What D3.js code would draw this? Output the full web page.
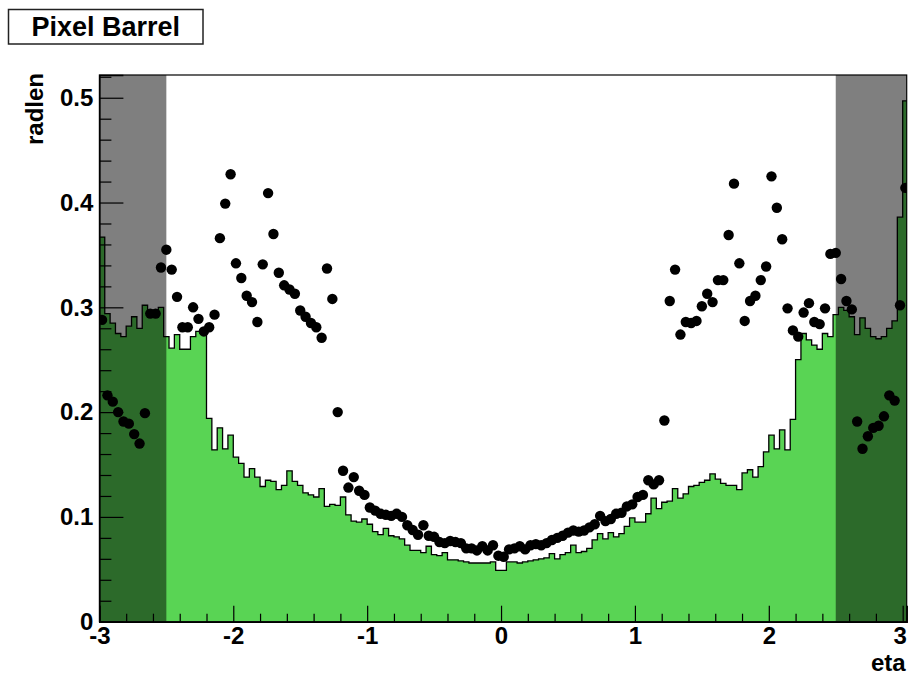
<!DOCTYPE html>
<html>
<head>
<meta charset="utf-8">
<script src="https://cdn.jsdelivr.net/npm/d3@7"></script>
<style>
  html, body { margin: 0; padding: 0; background: #fff; }
  svg { display: block; }
  text { font-family: "Liberation Sans", Arial, Helvetica, sans-serif; font-weight: bold; }
</style>
</head>
<body>
<svg id="chart" width="908" height="677"></svg>
<script>
// Material budget of the pixel barrel versus pseudorapidity
const chartTitle = "Pixel Barrel";
const xTitle = "eta";
const yTitle = "radlen";

// histogram binning: 151 bins of width 0.04 starting at eta = -3
const binLow = -3.0;
const binWidth = 0.04;

// simulated radiation length per bin (filled histogram)
const histValues = [
  0.367, 0.294, 0.285, 0.275, 0.272, 0.282, 0.291, 0.280, 0.302, 0.297,
  0.297, 0.300, 0.272, 0.261, 0.274, 0.260, 0.260, 0.272, 0.277, 0.277,
  0.194, 0.164, 0.185, 0.165, 0.178, 0.157, 0.151, 0.138, 0.146, 0.138,
  0.129, 0.135, 0.134, 0.126, 0.130, 0.144, 0.134, 0.130, 0.123, 0.121,
  0.119, 0.127, 0.110, 0.112, 0.111, 0.119, 0.102, 0.096, 0.095, 0.098,
  0.093, 0.086, 0.083, 0.089, 0.082, 0.081, 0.079, 0.073, 0.068, 0.068,
  0.066, 0.072, 0.064, 0.063, 0.066, 0.059, 0.059, 0.058, 0.057, 0.056,
  0.056, 0.056, 0.056, 0.057, 0.049, 0.049, 0.057, 0.057, 0.056, 0.057,
  0.058, 0.059, 0.060, 0.061, 0.065, 0.060, 0.064, 0.066, 0.073, 0.066,
  0.067, 0.070, 0.078, 0.084, 0.079, 0.085, 0.081, 0.084, 0.091, 0.099,
  0.095, 0.095, 0.103, 0.118, 0.108, 0.114, 0.115, 0.127, 0.118, 0.122,
  0.129, 0.130, 0.133, 0.135, 0.141, 0.136, 0.132, 0.130, 0.130, 0.126,
  0.142, 0.145, 0.138, 0.148, 0.162, 0.178, 0.165, 0.183, 0.164, 0.193,
  0.250, 0.275, 0.269, 0.264, 0.260, 0.275, 0.272, 0.293, 0.300, 0.297,
  0.291, 0.274, 0.290, 0.280, 0.272, 0.270, 0.272, 0.280, 0.287, 0.386,
  0.497
];

// reconstructed radiation length per bin (markers)
const pointValues = [
  0.288, 0.216, 0.210, 0.200, 0.191, 0.189, 0.179, 0.170, 0.199, 0.294,
  0.294, 0.338, 0.355, 0.336, 0.310, 0.281, 0.281, 0.300, 0.289, 0.277,
  0.281, 0.293, 0.366, 0.399, 0.427, 0.342, 0.328, 0.311, 0.305, 0.286,
  0.341, 0.409, 0.370, 0.333, 0.321, 0.317, 0.313, 0.297, 0.291, 0.285,
  0.281, 0.271, 0.337, 0.308, 0.200, 0.144, 0.128, 0.138, 0.125, 0.121,
  0.109, 0.106, 0.103, 0.102, 0.101, 0.103, 0.100, 0.092, 0.0875, 0.083,
  0.092, 0.082, 0.081, 0.076, 0.075, 0.077, 0.076, 0.075, 0.070, 0.070,
  0.068, 0.072, 0.068, 0.073, 0.063, 0.062, 0.069, 0.070, 0.072, 0.069,
  0.073, 0.074, 0.073, 0.075, 0.078, 0.080, 0.082, 0.085, 0.087, 0.086,
  0.087, 0.090, 0.093, 0.101, 0.096, 0.098, 0.103, 0.104, 0.110, 0.112,
  0.119, 0.121, 0.135, 0.131, 0.135, 0.192, 0.306, 0.336, 0.274, 0.286,
  0.285, 0.287, 0.301, 0.313, 0.305, 0.326, 0.326, 0.369, 0.418, 0.342,
  0.287, 0.306, 0.311, 0.326, 0.339, 0.425, 0.395, 0.365, 0.299, 0.278,
  0.272, 0.295, 0.304, 0.286, 0.284, 0.299, 0.351, 0.352, 0.327, 0.306,
  0.298, 0.191, 0.165, 0.177, 0.185, 0.187, 0.196, 0.216, 0.211, 0.302,
  0.414
];

// axis ticks and shaded acceptance limits
const xTickValues = [-3, -2, -1, 0, 1, 2, 3];
const yTickValues = [0, 0.1, 0.2, 0.3, 0.4, 0.5];
const etaLimit = 2.5;

// plot frame
const frame = { left: 99.4, right: 906.7, top: 75, bottom: 621.7 };
const xMax = 3.03;
const yMax = 0.5217;

const svg = d3.select("#chart");

const x = d3.scaleLinear().domain([-3, xMax]).range([frame.left, frame.right]);
const y = d3.scaleLinear().domain([0, yMax]).range([frame.bottom, frame.top]);

svg.append("defs").append("clipPath").attr("id", "plotClip")
  .append("rect")
  .attr("x", frame.left).attr("y", frame.top)
  .attr("width", frame.right - frame.left)
  .attr("height", frame.bottom - frame.top);

const plot = svg.append("g").attr("clip-path", "url(#plotClip)");

// step outline of the histogram
const edgeLo = i => binLow + i * binWidth;
const stepPts = [[edgeLo(0), 0]];
histValues.forEach((v, i) => {
  stepPts.push([edgeLo(i), v]);
  stepPts.push([edgeLo(i + 1), v]);
});
stepPts.push([edgeLo(histValues.length), 0]);

const line = d3.line().x(d => x(d[0])).y(d => y(d[1]));

plot.append("path")
  .attr("d", line(stepPts) + "Z")
  .attr("fill", "#59d454")
  .attr("stroke", "none");

plot.append("path")
  .attr("d", line(stepPts))
  .attr("fill", "none")
  .attr("stroke", "#000")
  .attr("stroke-width", 1.3)
  .attr("stroke-linejoin", "miter");

// shaded regions outside the barrel acceptance
const shade = [[-3, -etaLimit], [etaLimit, xMax]];
plot.selectAll("rect.shade").data(shade).enter().append("rect")
  .attr("class", "shade")
  .attr("x", d => x(d[0]))
  .attr("width", d => x(d[1]) - x(d[0]))
  .attr("y", frame.top)
  .attr("height", frame.bottom - frame.top)
  .attr("fill", "#000")
  .attr("fill-opacity", 0.5);

// markers at bin centres
plot.selectAll("circle.pt").data(pointValues).enter().append("circle")
  .attr("class", "pt")
  .attr("cx", (d, i) => x(binLow + (i + 0.5) * binWidth))
  .attr("cy", d => y(d))
  .attr("r", 5.2)
  .attr("fill", "#000");

// frame
svg.append("rect")
  .attr("x", frame.left).attr("y", frame.top)
  .attr("width", frame.right - frame.left)
  .attr("height", frame.bottom - frame.top)
  .attr("fill", "none")
  .attr("stroke", "#000")
  .attr("stroke-width", 1.2);

// y axis: major ticks with labels, minor ticks every 0.02
const yMinor = d3.range(0, yMax, 0.02).filter(v => Math.abs(v * 10 - Math.round(v * 10)) > 1e-6);
svg.append("g")
  .attr("transform", `translate(${frame.left},0)`)
  .call(d3.axisLeft(y).tickValues(yMinor).tickSize(-12).tickFormat(""))
  .call(g => g.select(".domain").remove())
  .call(g => g.selectAll("line").attr("stroke", "#000").attr("stroke-width", 1.2));

const yAxis = svg.append("g")
  .attr("transform", `translate(${frame.left},0)`)
  .call(d3.axisLeft(y).tickValues(yTickValues).tickSize(-24).tickPadding(6)
    .tickFormat(d => d === 0 ? "0" : d.toFixed(1)));
yAxis.select(".domain").attr("stroke", "#000").attr("stroke-width", 1.5);
yAxis.selectAll("line").attr("stroke", "#000").attr("stroke-width", 1.2);
yAxis.selectAll("text").attr("font-size", 24).attr("fill", "#000")
  .attr("font-family", "'Liberation Sans', Arial, sans-serif").attr("font-weight", "bold");

// x axis: major ticks with labels, minor ticks every 0.2
const xMinor = d3.range(-3, 3.001, 0.2).filter(v => Math.abs(v - Math.round(v)) > 1e-6);
svg.append("g")
  .attr("transform", `translate(0,${frame.bottom})`)
  .call(d3.axisBottom(x).tickValues(xMinor).tickSize(-8).tickFormat(""))
  .call(g => g.select(".domain").remove())
  .call(g => g.selectAll("line").attr("stroke", "#000").attr("stroke-width", 1.2));

const xAxis = svg.append("g")
  .attr("transform", `translate(0,${frame.bottom})`)
  .call(d3.axisBottom(x).tickValues(xTickValues).tickSize(-16).tickPadding(5)
    .tickFormat(d => String(d)));
xAxis.select(".domain").attr("stroke", "#000").attr("stroke-width", 1.5);
xAxis.selectAll("line").attr("stroke", "#000").attr("stroke-width", 1.2);
xAxis.selectAll("text").attr("font-size", 24).attr("fill", "#000")
  .attr("font-family", "'Liberation Sans', Arial, sans-serif").attr("font-weight", "bold");
// keep the outermost label inside the canvas
xAxis.selectAll(".tick").filter(d => d === 3).select("text").attr("dx", -3);

// axis titles
svg.append("text")
  .attr("x", frame.right - 1)
  .attr("y", 671)
  .attr("text-anchor", "end")
  .attr("font-size", 24)
  .text(xTitle);

svg.append("text")
  .attr("transform", `translate(43,73) rotate(-90)`)
  .attr("text-anchor", "end")
  .attr("font-size", 24)
  .text(yTitle);

// title box
const titleG = svg.append("g");
titleG.append("rect")
  .attr("x", 8.5).attr("y", 9.5)
  .attr("width", 194.5).attr("height", 34.5)
  .attr("fill", "#fff")
  .attr("stroke", "#222")
  .attr("stroke-width", 1.5);
titleG.append("text")
  .attr("x", 105.7).attr("y", 36)
  .attr("text-anchor", "middle")
  .attr("font-size", 27)
  .text(chartTitle);
</script>
</body>
</html>
